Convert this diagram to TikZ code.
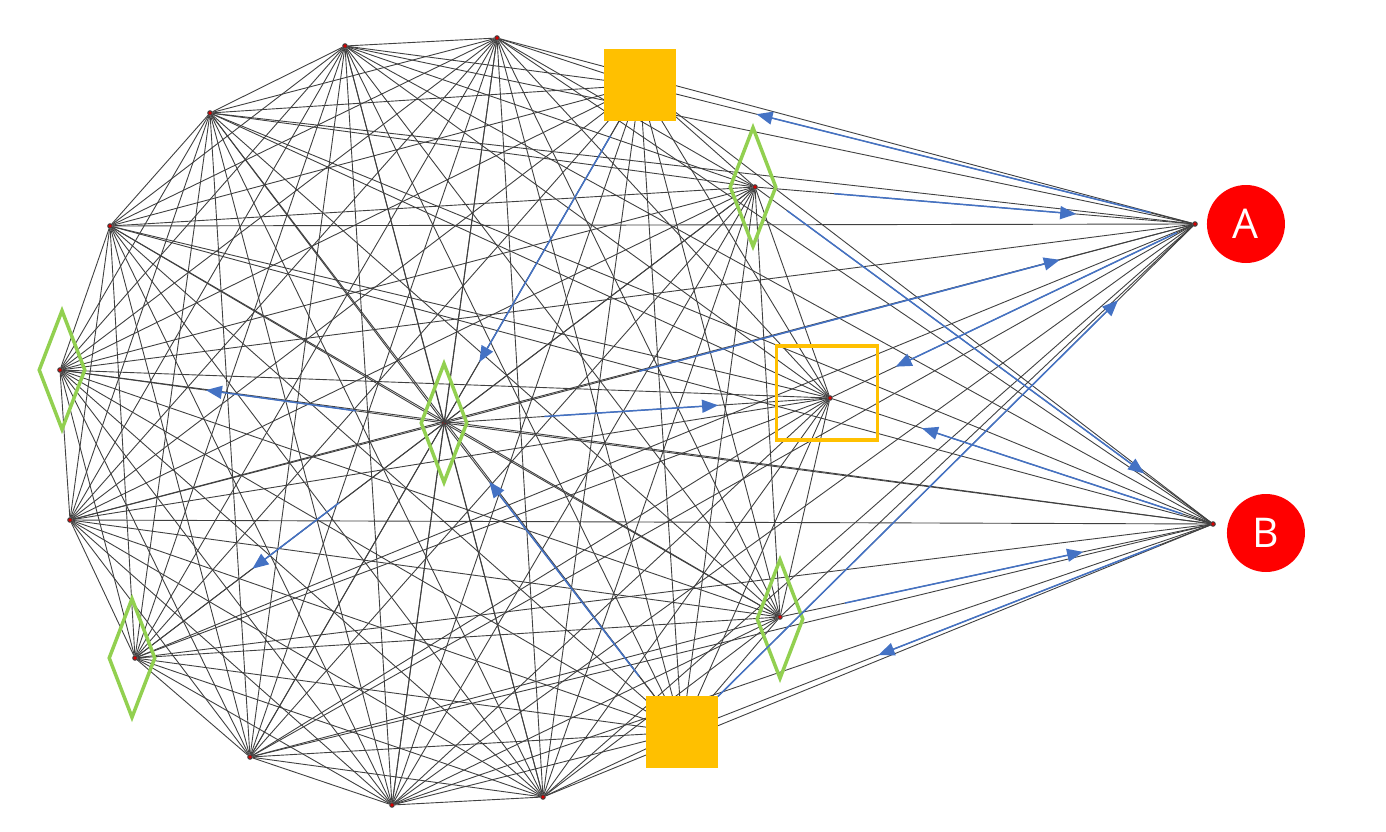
\documentclass[tikz,border=0pt]{standalone}
\usepackage{fontspec}
\setsansfont{Open Sans}
\usetikzlibrary{calc}
\usetikzlibrary{positioning}
\usetikzlibrary{arrows.meta}
\usetikzlibrary{shapes.geometric}
\definecolor{flowblue}{HTML}{4472C4}
\definecolor{goldish}{HTML}{FFC000}
\definecolor{leafgreen}{HTML}{92D050}
\tikzset{
vertex/.style={circle,fill=red!85!black,draw=black!75,line width=1pt,inner sep=0pt,minimum size=4.5pt},
edge/.style={black!75,line width=0.9pt},
flow/.style={flowblue,line width=1.5pt,-{Triangle[length=16pt,width=13pt]}},
gem/.style={diamond,draw=leafgreen,line width=3.5pt,inner sep=0pt,minimum width=47pt,minimum height=120pt},
block/.style={fill=goldish,inner sep=0pt,minimum size=72pt},
frame/.style={draw=goldish,line width=3.5pt,inner sep=0pt,minimum width=101pt,minimum height=94pt},
terminal/.style={circle,fill=red,text=white,inner sep=0pt,minimum size=78pt,font=\fontsize{41}{41}\selectfont\sffamily},
}
\begin{document}
\begin{tikzpicture}[x=1pt,y=-1pt]
\useasboundingbox (0,0) rectangle (1386,832);

%
\node[vertex] (n1) at (345,46) {};
\node[vertex] (n2) at (497,38) {};
\node[vertex] (n3) at (640,85) {};
\node[vertex] (n4) at (210,113) {};
\node[vertex] (n5) at (755,187) {};
\node[vertex] (n6) at (110,226) {};
\node[vertex] (n7) at (1195,224) {};
\node[vertex] (n8) at (60,370) {};
\node[vertex] (n9) at (444,423) {};
\node[vertex] (n10) at (830,398) {};
\node[vertex] (n11) at (70,520) {};
\node[vertex] (n12) at (1213,524) {};
\node[vertex] (n13) at (135,658) {};
\node[vertex] (n14) at (780,617) {};
\node[vertex] (n15) at (250,757) {};
\node[vertex] (n16) at (392,805) {};
\node[vertex] (n17) at (543,797) {};
\node[vertex] (n18) at (682,732) {};

%
\foreach \i in {1,...,17} {
	\pgfmathtruncatemacro{\j}{\i+1}
	\foreach \k in {\j,...,18} {
		\ifnum\i\k=712 \else \draw[edge] (n\i) -- (n\k); \fi
	}
}

%
\node[block] (sq3) at (n3) {};
\node[block] (sq18) at (n18) {};
\node[frame, xshift=-3pt, yshift=5pt] (box10) at (n10) {};
\node[gem, xshift=-2pt] (gem5) at (n5) {};
\node[gem, xshift=2pt] (gem8) at (n8) {};
\node[gem] (gem9) at (n9) {};
\node[gem, xshift=-3pt] (gem13) at (n13) {};
\node[gem, yshift=-2pt] (gem14) at (n14) {};

\node[terminal, right=9pt of n7] (la) {A};
\node[terminal, right=11pt of n12, yshift=-9pt] (lb) {B};

%
\draw[flow] ($(n7)!0.08!(n3)$) -- ($(n7)!0.79!(n3)$);
\draw[flow] ($(n5)!0.18!(n7)$) -- ($(n5)!0.73!(n7)$);
\draw[flow] ($(n9)!0.26!(n7)$) -- ($(n9)!0.82!(n7)$);
\draw[flow] ($(n7)!0.05!(n10)$) -- ($(n7)!0.82!(n10)$);
\draw[flow] ($(n18)!0.07!(n7)$) -- ($(n18)!0.85!(n7)$);
\draw[flow] ($(n5)!0.07!(n12)$) -- ($(n5)!0.85!(n12)$);
\draw[flow] ($(n12)!0.08!(n10)$) -- ($(n12)!0.76!(n10)$);
\draw[flow] ($(n14)!0.15!(n12)$) -- ($(n14)!0.70!(n12)$);
\draw[flow] ($(n12)!0.10!(n18)$) -- ($(n12)!0.63!(n18)$);
\draw[flow] ($(n3)!0.15!(n9)$) -- ($(n3)!0.82!(n9)$);
\draw[flow] ($(n9)!0.23!(n8)$) -- ($(n9)!0.62!(n8)$);
\draw[flow] ($(n9)!0.26!(n10)$) -- ($(n9)!0.71!(n10)$);
\draw[flow] ($(n18)!0.18!(n9)$) -- ($(n18)!0.81!(n9)$);
\draw[flow] ($(n9)!0.34!(n13)$) -- ($(n9)!0.62!(n13)$);
\end{tikzpicture}
\end{document}
